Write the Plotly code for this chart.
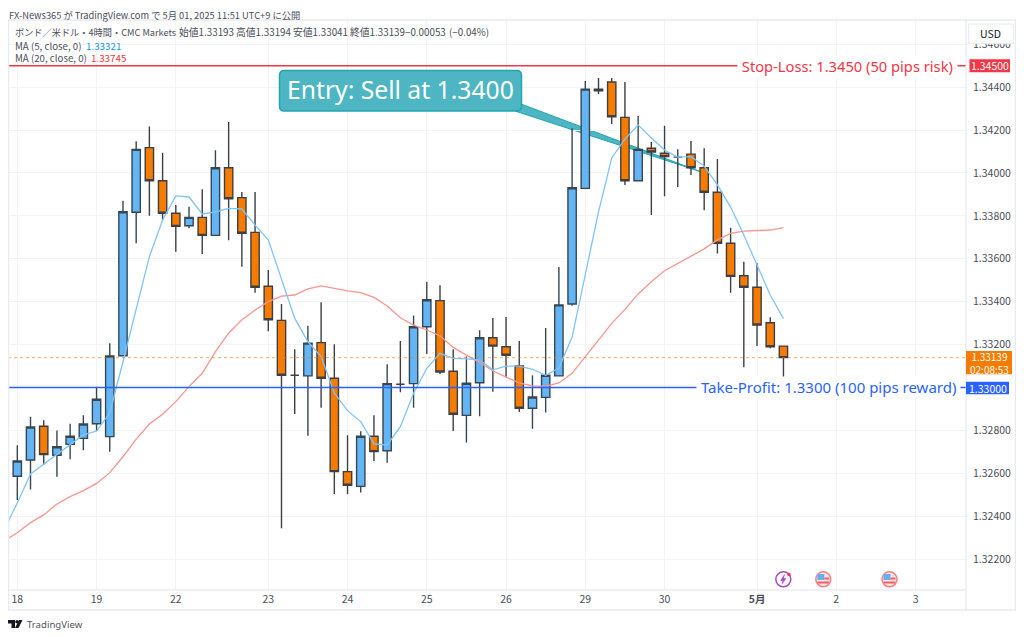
import plotly.graph_objects as go

# 4時間足 (GBP/USD)
open_ = [1.32496, 1.32586, 1.32662, 1.32819, 1.32684, 1.32735, 1.32763, 1.32831, 1.32771, 1.33148,
         1.33817, 1.34118, 1.33964, 1.33812, 1.33754, 1.33793, 1.33709, 1.34024, 1.33885, 1.33723,
         1.33472, 1.33313, 1.33057, 1.33054, 1.33209, 1.33043, 1.32608, 1.32539, 1.32773, 1.32705,
         1.33015, 1.33018, 1.33283, 1.33405, 1.33076, 1.32870, 1.33022, 1.33232, 1.33190, 1.33100,
         1.32903, 1.32954, 1.33054, 1.33389, 1.33928, 1.34390, 1.34424, 1.34259, 1.33964, 1.34115,
         1.34092, 1.34074, 1.34088, 1.34024, 1.33910, 1.33672, 1.33521, 1.33467, 1.33302, 1.33193]
high = [1.32615, 1.32731, 1.32864, 1.32847, 1.32799, 1.32831, 1.32870, 1.33004, 1.33206, 1.33871,
        1.34148, 1.34217, 1.34094, 1.33851, 1.33843, 1.33924, 1.34106, 1.34237, 1.33911, 1.33911,
        1.33548, 1.33389, 1.33178, 1.33288, 1.33397, 1.33201, 1.32777, 1.32796, 1.32870, 1.33108,
        1.33217, 1.33335, 1.33493, 1.33476, 1.33178, 1.33144, 1.33267, 1.33324, 1.33329, 1.33217,
        1.33057, 1.33277, 1.33562, 1.34208, 1.34429, 1.34443, 1.34443, 1.34424, 1.34265, 1.34144,
        1.34220, 1.34110, 1.34149, 1.34115, 1.34065, 1.33745, 1.33586, 1.33579, 1.33327, 1.33194]
low = [1.32452, 1.32476, 1.32524, 1.32640, 1.32584, 1.32665, 1.32707, 1.32797, 1.32701, 1.33144,
       1.33672, 1.33801, 1.33779, 1.33633, 1.33742, 1.33622, 1.33707, 1.33686, 1.33563, 1.33442,
       1.33262, 1.32344, 1.32876, 1.32775, 1.32906, 1.32504, 1.32502, 1.32510, 1.32657, 1.32649,
       1.32978, 1.32906, 1.33156, 1.33063, 1.32797, 1.32743, 1.32866, 1.32980, 1.33050, 1.32886,
       1.32808, 1.32883, 1.33051, 1.33381, 1.33926, 1.34368, 1.34228, 1.33944, 1.33962, 1.33804,
       1.33891, 1.33935, 1.33990, 1.33826, 1.33624, 1.33442, 1.33094, 1.33193, 1.33183, 1.33041]
close = [1.32588, 1.32657, 1.32816, 1.32687, 1.32724, 1.32773, 1.32830, 1.32945, 1.33147, 1.33819,
         1.34110, 1.33964, 1.33812, 1.33751, 1.33793, 1.33709, 1.34024, 1.33880, 1.33719, 1.33467,
         1.33316, 1.33057, 1.33057, 1.33207, 1.33043, 1.32608, 1.32544, 1.32773, 1.32701, 1.33018,
         1.33015, 1.33283, 1.33409, 1.33072, 1.32875, 1.33020, 1.33232, 1.33193, 1.33150, 1.32903,
         1.32956, 1.33057, 1.33385, 1.33931, 1.34391, 1.34383, 1.34262, 1.33964, 1.34110, 1.34098,
         1.34076, 1.34074, 1.34024, 1.33910, 1.33672, 1.33518, 1.33467, 1.33291, 1.33190, 1.33139]
ma5 = [1.32336, 1.32462, 1.32597, 1.32643, 1.32685, 1.32735, 1.32779, 1.32797, 1.32881, 1.33120,
       1.33361, 1.33610, 1.33781, 1.33893, 1.33888, 1.33809, 1.33818, 1.33835, 1.33832, 1.33757,
       1.33688, 1.33506, 1.33323, 1.33213, 1.33144, 1.32974, 1.32892, 1.32841, 1.32737, 1.32732,
       1.32817, 1.32973, 1.33089, 1.33159, 1.33136, 1.33133, 1.33128, 1.33082, 1.33100, 1.33100,
       1.33085, 1.33057, 1.33091, 1.33235, 1.33529, 1.33818, 1.34070, 1.34158, 1.34224, 1.34163,
       1.34107, 1.34074, 1.34076, 1.34032, 1.33944, 1.33841, 1.33711, 1.33571, 1.33431, 1.33321]
ma20 = [1.32285, 1.32323, 1.32370, 1.32406, 1.32457, 1.32491, 1.32519, 1.32553, 1.32603, 1.32677,
        1.32759, 1.32830, 1.32875, 1.32934, 1.33004, 1.33066, 1.33167, 1.33253, 1.33315, 1.33361,
        1.33400, 1.33426, 1.33431, 1.33460, 1.33474, 1.33462, 1.33450, 1.33442, 1.33420, 1.33380,
        1.33325, 1.33291, 1.33268, 1.33241, 1.33187, 1.33151, 1.33117, 1.33078, 1.33048, 1.33022,
        1.33007, 1.33006, 1.33021, 1.33066, 1.33141, 1.33221, 1.33299, 1.33364, 1.33436, 1.33493,
        1.33544, 1.33579, 1.33610, 1.33646, 1.33688, 1.33718, 1.33729, 1.33732, 1.33734, 1.33745]

x_ticks = [1, 7, 13, 20, 26, 32, 38, 44, 50, 57, 63, 69]
x_labels = ['18', '19', '22', '23', '24', '25', '26', '29', '30', '<b>5月</b>', '2', '3']
y_ticks = [1.322, 1.324, 1.326, 1.328, 1.332, 1.334, 1.336, 1.338, 1.340, 1.342, 1.344, 1.346]

stop_loss = 1.345
take_profit = 1.330
bars = list(range(len(close)))

# ページの body に 8px の余白があるので図はその分小さくする
PAGE_MARGIN = 8
W, H = 1024 - PAGE_MARGIN * 2, 638 - PAGE_MARGIN
LEFT, RIGHT, TOP, BOTTOM = 8, 966, 20, 590
FONT = 'Noto Sans CJK JP'
TEXT = '#4a4e59'
BLUE = '#2962ff'
RED = '#f23645'
ORANGE = '#f57c00'


# ウィンドウのピクセル -> paper 座標
def px(v):
    return (v - LEFT) / (RIGHT - LEFT)


def py(v):
    return (BOTTOM - v) / (BOTTOM - TOP)


def path(points):
    return 'M ' + ' L '.join(f'{px(a):.5f},{py(b):.5f}' for a, b in points) + ' Z'


fig = go.Figure()

fig.add_trace(go.Scatter(x=bars, y=ma20, mode='lines', line=dict(color='#f9958f', width=1.3),
                         hoverinfo='skip', showlegend=False))
fig.add_trace(go.Scatter(x=bars, y=ma5, mode='lines', line=dict(color='#7fc4f8', width=1.3),
                         hoverinfo='skip', showlegend=False))
fig.add_trace(go.Candlestick(x=bars, open=open_, high=high, low=low, close=close,
                             increasing=dict(fillcolor='#64b5f6', line=dict(color='#37474f', width=1.4)),
                             decreasing=dict(fillcolor=ORANGE, line=dict(color='#3e3f44', width=1.4)),
                             whiskerwidth=0, showlegend=False, hoverinfo='skip'))

shapes = []


def box(x0, y0, x1, y1, fill='rgba(0,0,0,0)', line='rgba(0,0,0,0)', width=1, layer='above'):
    shapes.append(dict(type='rect', xref='paper', yref='paper', x0=px(x0), x1=px(x1), y0=py(y0), y1=py(y1),
                       fillcolor=fill, line=dict(color=line, width=width), layer=layer))


def circle(cx, cy, r, fill='white', line='rgba(0,0,0,0)', width=1.5):
    box(cx - r, cy - r, cx + r, cy + r, fill, line, width)
    shapes[-1]['type'] = 'circle'


# 水平線
shapes.append(dict(type='line', xref='paper', yref='y', x0=0, x1=1, y0=close[-1], y1=close[-1],
                   line=dict(color='rgba(245,124,0,0.6)', width=1, dash='dot'), layer='above'))
for level, col in [(stop_loss, RED), (take_profit, BLUE)]:
    shapes.append(dict(type='line', xref='paper', yref='y', x0=0, x1=1, y0=level, y1=level,
                       line=dict(color=col, width=1.5), layer='above'))

# Entry コールアウト
teal = '#4db6c2'
teal_line = '#22a4b2'
shapes.append(dict(type='path', xref='paper', yref='paper', layer='below',
                   path=path([(521, 104), (700, 171.5), (515, 111)]),
                   fillcolor=teal, line=dict(color=teal_line, width=1)))
x0, x1, y0, y1 = px(279.5), px(521.5), py(70.5), py(111)
rx, ry = 5 / (RIGHT - LEFT), 5 / (BOTTOM - TOP)
shapes.append(dict(type='path', xref='paper', yref='paper', layer='above',
                   path=f'M {x0 + rx},{y0} L {x1 - rx},{y0} Q {x1},{y0} {x1},{y0 - ry} '
                        f'L {x1},{y1 + ry} Q {x1},{y1} {x1 - rx},{y1} L {x0 + rx},{y1} '
                        f'Q {x0},{y1} {x0},{y1 + ry} L {x0},{y0 - ry} Q {x0},{y0} {x0 + rx},{y0} Z',
                   fillcolor=teal, line=dict(color=teal_line, width=1.5)))

# 枠線
box(8.5, 20, 1015.5, 610, line='#e8eaef', width=1.5)
shapes.append(dict(type='line', xref='paper', yref='paper', x0=0, x1=1, y0=0, y1=0,
                   line=dict(color='#e0e3eb', width=1), layer='above'))
shapes.append(dict(type='line', xref='paper', yref='paper', x0=1, x1=1, y0=py(20), y1=py(610),
                   line=dict(color='#e0e3eb', width=1), layer='above'))

# 右軸のラベル
box(968.7, 24, 1013.3, 43.7, fill='white', line='#e8eaef', width=1)
box(969.5, 59.3, 1010, 72.3, fill=RED)
box(966, 381.7, 1009, 394.3, fill=BLUE)
box(966, 351, 1012, 374.3, fill=ORANGE)

# イベントアイコン
circle(783.3, 579.3, 7.5, line='#ab47bc')
shapes.append(dict(type='path', xref='paper', yref='paper', layer='above',
                   path=path([(784.5, 574.5), (780.5, 580.5), (783, 580.5), (782, 584), (786, 578.5), (783.5, 578.5)]),
                   fillcolor='#ab47bc', line=dict(color='#ab47bc', width=0.5)))
circle(789, 574.5, 1.8, fill=RED)
for cx in (823.3, 889.5):
    circle(cx, 579.3, 7.5, fill='#fde4e4', line='#f77f84')
    box(cx - 6, 574, cx + 1, 580, fill='#64b0ee')
    box(cx + 1, 577.5, cx + 6, 579.5, fill='#f0616a')
    box(cx - 6, 581.5, cx + 6, 583.5, fill='#f0616a')

# TradingView ロゴ
logo = '#131722'
shapes.append(dict(type='path', xref='paper', yref='paper', layer='above',
                   path=path([(8, 620), (15, 620), (15, 628), (11.5, 628), (11.5, 623.5), (8, 623.5)]),
                   fillcolor=logo, line=dict(width=0)))
circle(17, 621.7, 1.7, fill=logo)
shapes.append(dict(type='path', xref='paper', yref='paper', layer='above',
                   path=path([(19, 620), (22.5, 620), (18.5, 628), (15, 628)]),
                   fillcolor=logo, line=dict(width=0)))

notes = []


def label(x, y, text, size=10.5, color=TEXT, anchor='left', font=FONT, **kw):
    notes.append(dict(xref='paper', yref='paper', x=px(x), y=py(y), text=text, showarrow=False,
                      xanchor=anchor, yanchor='middle', font=dict(family=font, size=size, color=color),
                      borderpad=0, **kw))


# 図の上端が y=8 なのでヘッダーは少し下げる
label(8, 14.5, 'FX-News365 が TradingView.com で 5月 01, 2025 11:51 UTC+9 に公開', size=9.3)
label(14, 32, 'ボンド／米ドル・4時間・CMC Markets', size=9.2)
legend_x = [178, 235, 292, 349, 404, 448]
legend_text = ['始値1.33193', '高値1.33194', '安値1.33041', '終値1.33139', '−0.00053', '(−0.04%)']
for lx, lt in zip(legend_x, legend_text):
    label(lx, 32, lt, size=9.8)
label(14, 45.5, 'MA (5, close, 0)', size=9.7)
label(84.5, 45.5, '1.33321', size=9.8, color='#2196f3')
label(14, 58.5, 'MA (20, close, 0)', size=9.7)
label(89.5, 58.5, '1.33745', size=9.8, color=RED)

label(400.5, 89.5, 'Entry: Sell at 1.3400', size=24.7, color='white', anchor='center', font='Noto Sans')

notes.append(dict(xref='paper', yref='y', x=px(847), y=stop_loss, text=' Stop-Loss: 1.3450 (50 pips risk) ',
                  showarrow=False, xanchor='center', yanchor='middle', bgcolor='white', borderpad=0,
                  font=dict(family='Noto Sans', size=14.7, color=RED)))
notes.append(dict(xref='paper', yref='y', x=px(828), y=take_profit, text=' Take-Profit: 1.3300 (100 pips reward) ',
                  showarrow=False, xanchor='center', yanchor='middle', bgcolor='white', borderpad=0,
                  font=dict(family='Noto Sans', size=15, color=BLUE)))

label(990, 33.8, 'USD', size=10.5, color='#131722', anchor='center')
label(989.5, 65.8, f'{stop_loss:.5f}', size=10.5, color='white', anchor='center')
label(987.5, 388, f'{take_profit:.5f}', size=10.5, color='white', anchor='center')
label(989, 362.7, f'{close[-1]:.5f}<br>02:08:53', size=10, color='white', anchor='center')
label(26, 624, 'TradingView', size=9.6, color='#50535e', font='Noto Sans')

fig.update_layout(
    width=W, height=H,
    margin=dict(l=LEFT - PAGE_MARGIN, r=W + PAGE_MARGIN - RIGHT, t=TOP - PAGE_MARGIN, b=H + PAGE_MARGIN - BOTTOM),
    paper_bgcolor='white', plot_bgcolor='white',
    showlegend=False,
    boxgap=0.37, boxgroupgap=0,
    shapes=shapes, annotations=notes,
    xaxis=dict(range=[0.296, 72.82], rangeslider=dict(visible=False), tickmode='array',
               tickvals=x_ticks, ticktext=x_labels, showgrid=True, gridcolor='#f3f4f6', gridwidth=1,
               zeroline=False, showline=False, ticks='', tickfont=dict(family=FONT, size=10.5, color=TEXT),
               ticklabelstandoff=1),
    yaxis=dict(range=[1.32056, 1.34713], side='right', tickmode='array', tickvals=y_ticks,
               tickformat='.5f', showgrid=True, gridcolor='#f3f4f6', gridwidth=1, zeroline=False,
               showline=False, ticks='', tickfont=dict(family=FONT, size=10.5, color=TEXT),
               ticklabelstandoff=6),
)

fig.write_html("out.html")
